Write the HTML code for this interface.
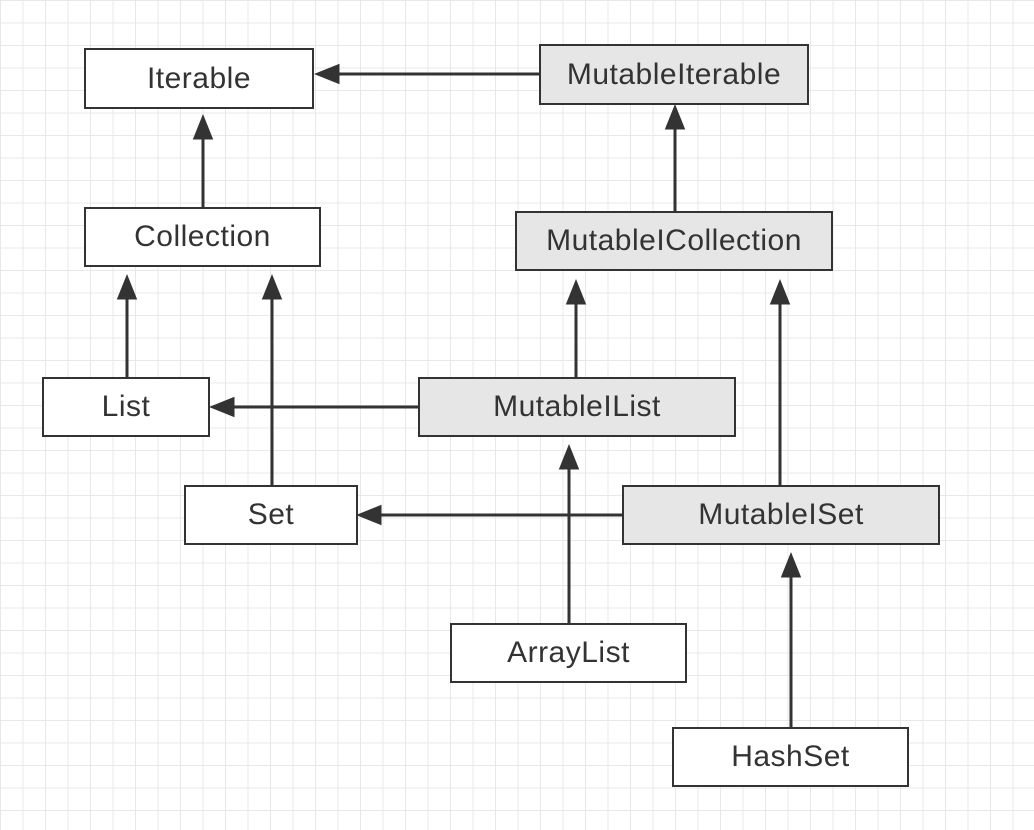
<!DOCTYPE html>
<html><head><style>
body{margin:0;width:1034px;height:830px;overflow:hidden;background:#fff;
background-image:linear-gradient(#e8e8e8 1px,transparent 1px),linear-gradient(90deg,#e8e8e8 1px,transparent 1px);
background-size:22.5px 22.5px;background-position:0 0;}
.b{position:absolute;box-sizing:border-box;border:2.5px solid #333;background:#fff;display:flex;align-items:center;justify-content:center;font-family:"Liberation Sans",sans-serif;font-size:30px;letter-spacing:0.5px;color:#333}
.g{background:#e6e6e6}
svg{position:absolute;left:0;top:0}
</style></head><body>
<svg width="1034" height="830">
<g stroke="#333" stroke-width="3" fill="#333">
<line x1="539" y1="74" x2="336" y2="74"/><path d="M318,74 l20,-8 v16z"/>
<line x1="203" y1="207" x2="203" y2="136"/><path d="M203,118 l-8,20 h16z"/>
<line x1="127" y1="377" x2="127" y2="296"/><path d="M127,278 l-8,20 h16z"/>
<line x1="272" y1="485" x2="272" y2="296"/><path d="M272,278 l-8,20 h16z"/>
<line x1="576" y1="377" x2="576" y2="301"/><path d="M576,283 l-8,20 h16z"/>
<line x1="675" y1="211" x2="675" y2="126"/><path d="M675,108 l-8,20 h16z"/>
<line x1="418" y1="407" x2="231" y2="407"/><path d="M213,407 l20,-8 v16z"/>
<line x1="622" y1="515" x2="378" y2="515"/><path d="M360,515 l20,-8 v16z"/>
<line x1="780" y1="485" x2="780" y2="301"/><path d="M780,283 l-8,20 h16z"/>
<line x1="569" y1="623" x2="569" y2="466"/><path d="M569,448 l-8,20 h16z"/>
<line x1="791" y1="727" x2="791" y2="574"/><path d="M791,556 l-8,20 h16z"/>
</g></svg>
<div class="b" style="left:84px;top:48px;width:230px;height:61px">Iterable</div>
<div class="b g" style="left:539px;top:44px;width:270px;height:61px">MutableIterable</div>
<div class="b" style="left:84px;top:207px;width:237px;height:60px">Collection</div>
<div class="b g" style="left:515px;top:211px;width:318px;height:60px">MutableICollection</div>
<div class="b" style="left:42px;top:377px;width:168px;height:60px">List</div>
<div class="b g" style="left:418px;top:377px;width:318px;height:60px">MutableIList</div>
<div class="b" style="left:184px;top:485px;width:174px;height:60px">Set</div>
<div class="b g" style="left:622px;top:485px;width:318px;height:60px">MutableISet</div>
<div class="b" style="left:450px;top:623px;width:237px;height:60px">ArrayList</div>
<div class="b" style="left:672px;top:727px;width:237px;height:60px">HashSet</div>
</body></html>
